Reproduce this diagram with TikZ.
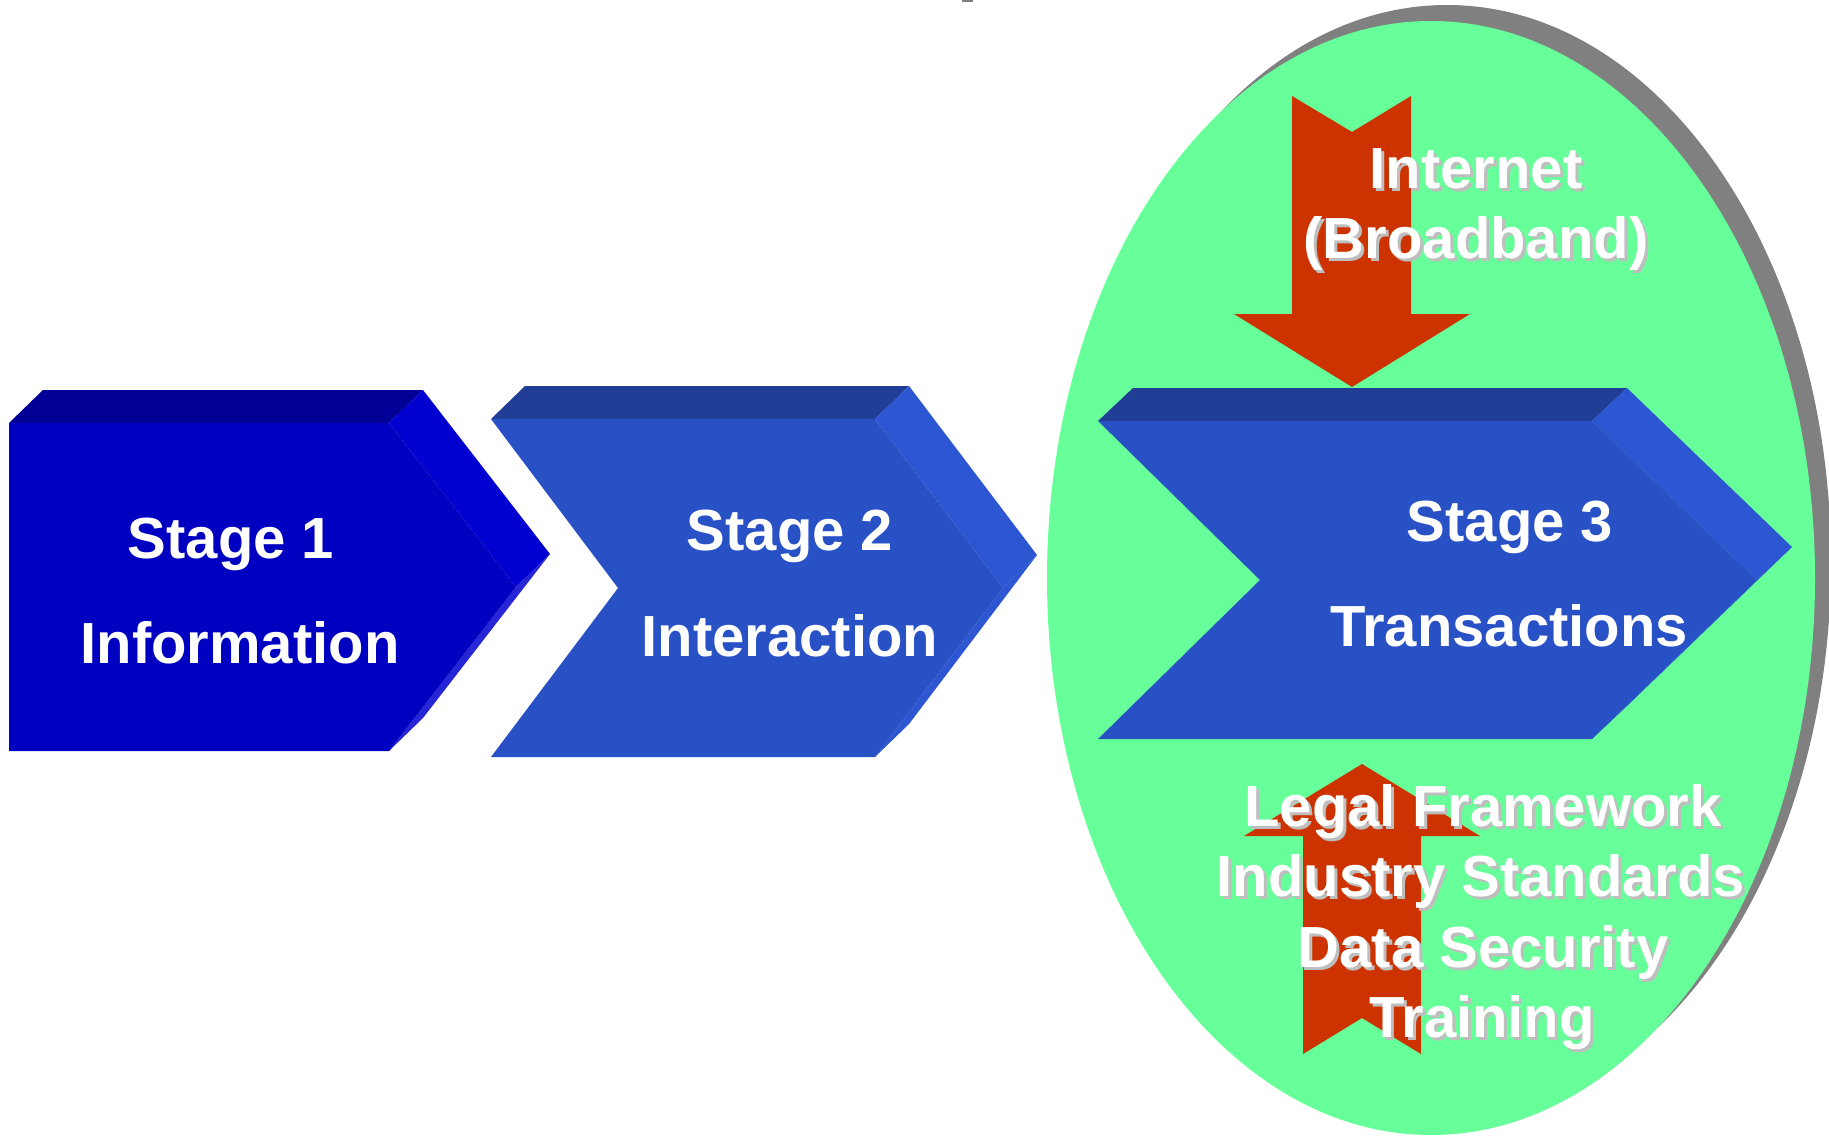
\documentclass[tikz,border=0pt]{standalone}
\usepackage{fontspec}
\setmainfont{Liberation Sans}
\definecolor{sAfront}{RGB}{0,0,192}
\definecolor{sAtop}{RGB}{0,0,150}
\definecolor{sAside}{RGB}{0,0,208}
\definecolor{sBfront}{RGB}{41,81,198}
\definecolor{sBtop}{RGB}{33,62,150}
\definecolor{sBside}{RGB}{44,86,210}
\definecolor{ovalgreen}{RGB}{102,255,153}
\definecolor{ovalshadow}{RGB}{128,128,128}
\definecolor{redarrow}{RGB}{204,51,0}
\definecolor{tshadow}{RGB}{190,190,190}
\newcommand{\shtext}[1]{\rlap{\hspace{3pt}\raisebox{-3pt}{\textcolor{tshadow}{#1}}}#1}
\begin{document}
\begin{tikzpicture}[x=1pt,y=-1pt,
  lbl/.style={text=white, font=\fontsize{58}{70}\selectfont\bfseries, inner sep=0pt, anchor=base},
  redfill/.style={fill=redarrow}]
\useasboundingbox (0,0) rectangle (1829,1138);
% stray mark at the top
\fill[ovalshadow] (962,0) rectangle (973,1.5);
% oval with shadow
\fill[ovalshadow] (1447,562) ellipse [x radius=384pt, y radius=557pt];
\fill[ovalgreen] (1431,578) ellipse [x radius=384pt, y radius=557pt];
% Stage 1
\fill[sAtop] (9,423) -- (389,423) -- (423,390) -- (43,390) -- cycle;
\fill[sAside] (389,423) -- (516,587) -- (550,554) -- (423,390) -- cycle;
\fill[sAside!85!white] (516,587) -- (389,751) -- (423,718) -- (550,554) -- cycle;
\fill[sAfront] (9,423) -- (389,423) -- (516,587) -- (389,751) -- (9,751) -- cycle;
% Stage 2
\fill[sBtop] (491,419) -- (875,419) -- (909,386) -- (525,386) -- cycle;
\fill[sBside] (875,419) -- (1003,588) -- (1037,555) -- (909,386) -- cycle;
\fill[sBside] (1003,588) -- (875,757) -- (909,724) -- (1037,555) -- cycle;
\fill[sBfront] (491,419) -- (875,419) -- (1003,588) -- (875,757) -- (491,757) -- (618,588) -- cycle;
% Stage 3
\fill[sBtop] (1098,421) -- (1592,421) -- (1627,388) -- (1133,388) -- cycle;
\fill[sBside] (1592,421) -- (1757,580) -- (1792,547) -- (1627,388) -- cycle;
\fill[sBside] (1757,580) -- (1592,739) -- (1627,706) -- (1792,547) -- cycle;
\fill[sBfront] (1098,421) -- (1592,421) -- (1757,580) -- (1592,739) -- (1098,739) -- (1260,580) -- cycle;
% red arrows
\fill[redfill] (1292,96) -- (1352,132) -- (1411,96) -- (1411,314) -- (1470,314) -- (1352,387) -- (1234,314) -- (1292,314) -- cycle;
\fill[redfill] (1303,1054) -- (1362,1018) -- (1421,1054) -- (1421,836) -- (1480,836) -- (1362,764) -- (1244,836) -- (1303,836) -- cycle;
% stage labels
\node[lbl] (s1a) at (231,558) {Stage 1};
\node[lbl] (s1b) at (240,663) {Information};
\node[lbl] (s2a) at (790,550) {Stage 2};
\node[lbl] (s2b) at (790,656) {Interaction};
\node[lbl] (s3a) at (1510,541) {Stage 3};
\node[lbl] (s3b) at (1509,646) {Transactions};
% oval labels
\node[lbl] (net1) at (1476,188) {\shtext{Internet}};
\node[lbl] (net2) at (1476,258) {\shtext{(Broadband)}};
\node[lbl] (req1) at (1483,826) {\shtext{Legal Framework}};
\node[lbl] (req2) at (1481,896) {\shtext{Industry Standards}};
\node[lbl] (req3) at (1483,967) {\shtext{Data Security}};
\node[lbl] (req4) at (1482,1037) {\shtext{Training}};
\end{tikzpicture}
\end{document}
